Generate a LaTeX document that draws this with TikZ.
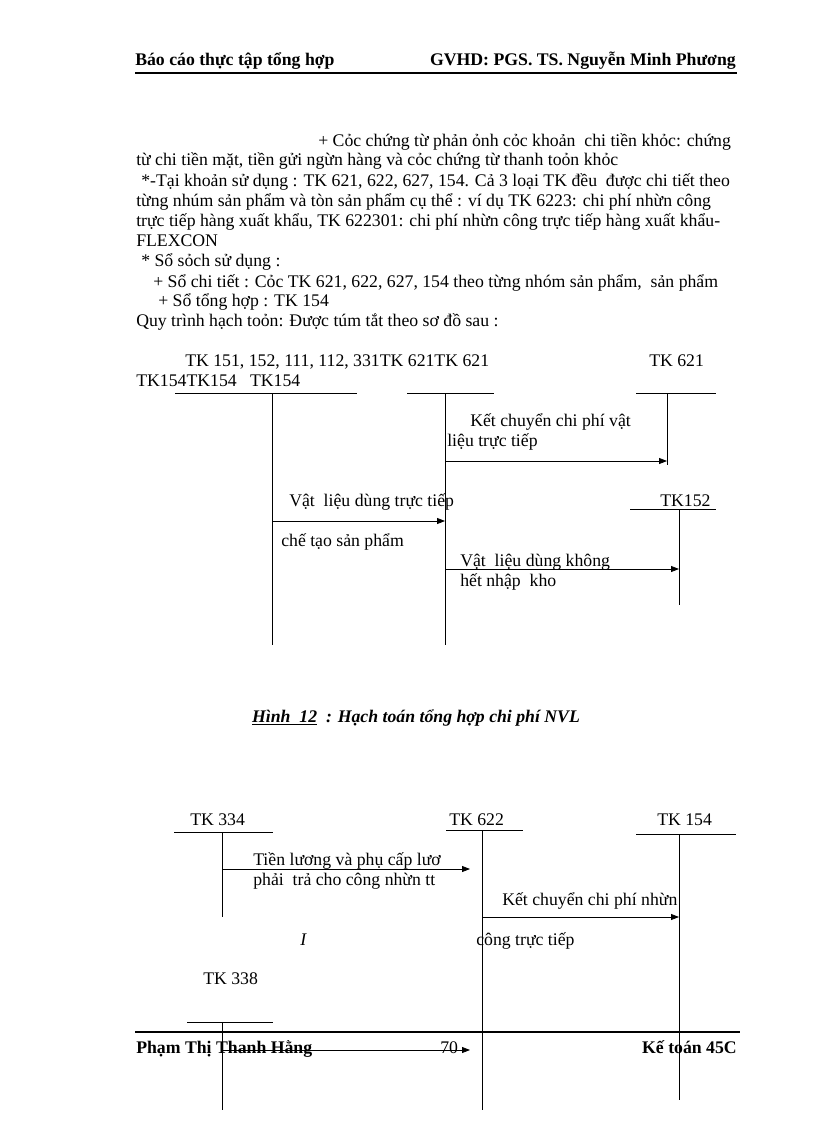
\documentclass[tikz,border=0pt]{standalone}
\usepackage{fontspec}
\setmainfont{Liberation Serif}
\usetikzlibrary{arrows.meta}
\begin{document}
\begin{tikzpicture}[x=0.75pt, y=-0.75pt,
  txt/.style={anchor=base west, inner sep=0pt, font=\fontsize{13.3}{16}\selectfont},
  head/.style={anchor=base west, inner sep=0pt, font=\fontsize{13.3}{16}\selectfont\bfseries},
  tline/.style={line width=0.75pt},
  rule/.style={line width=1.8pt},
  arr/.style={-{Triangle[length=6pt,width=4.5pt]}, line width=0.6pt}
]
\useasboundingbox[fill=white] (0,0) rectangle (816,1123);

% header
\node[head] (hl) at (135,66) {Báo cáo thực tập tổng hợp};
\node[head, anchor=base east] (hr) at (736,66) {GVHD: PGS. TS. Nguyễn Minh Phương};
\draw[rule] (135,73) -- (737,73);

% text block
\node[txt] (p1)  at (318,147) {+ Cỏc chứng từ phản ỏnh cỏc khoản\ \ chi tiền khỏc: chứng};
\node[txt] (p2)  at (136,166) {từ chi tiền mặt, tiền gửi ngừn hàng và cỏc chứng từ thanh toỏn khỏc};
\node[txt] (p3)  at (141,187) {*-Tại khoản sử dụng : TK 621, 622, 627, 154. Cả 3 loại TK đều\ \ được chi tiết theo};
\node[txt] (p4)  at (136,207) {từng nhúm sản phẩm và tòn sản phẩm cụ thể : ví dụ TK 6223: chi phí nhừn công};
\node[txt] (p5)  at (136,227) {trực tiếp hàng xuất khẩu, TK 622301: chi phí nhừn công trực tiếp hàng xuất khẩu-};
\node[txt] (p6)  at (136,246) {FLEXCON};
\node[txt] (p7)  at (141,266) {* Sổ sỏch sử dụng :};
\node[txt] (p8)  at (153,287) {+ Sổ chi tiết : Cỏc TK 621, 622, 627, 154 theo từng nhóm sản phẩm,\ \ sản phẩm};
\node[txt] (p9)  at (158,306) {+ Sổ tổng hợp : TK 154};
\node[txt] (p10) at (136,326) {Quy trình hạch toỏn: Được túm tắt theo sơ đồ sau :};

% diagram 1
\node[txt] (t1) at (185,366) {TK 151, 152, 111, 112, 331TK 621TK 621};
\node[txt] (t2) at (649,366) {TK 621};
\node[txt] (t3) at (136,386) {TK154TK154\ \ \ TK154};
\draw[tline] (175,393) -- (357,393);
\draw[tline] (272,393) -- (272,645);
\draw[tline] (407,393) -- (494,393);
\draw[tline] (445,393) -- (445,645);
\draw[tline] (636,393) -- (716,393);
\draw[tline] (667,393) -- (667,465);
\node[txt] (t4) at (660,506) {TK152};
\draw[tline] (630,509) -- (716,509);
\draw[tline] (679,509) -- (679,605);

\node[txt] (l1) at (470,426) {Kết chuyển chi phí vật};
\node[txt] (l2) at (447,446) {liệu trực tiếp};
\node[txt] (l3) at (289,506) {Vật\ \ liệu dùng trực tiếp};
\node[txt] (l4) at (281,546) {chế tạo sản phẩm};
\node[txt] (l5) at (460,566) {Vật\ \ liệu dùng không};
\node[txt] (l6) at (460,586) {hết nhập\ \ kho};

\coordinate (a1s) at (445,461);
\coordinate (a1e) at (667,461);
\coordinate (a2s) at (272,521);
\coordinate (a2e) at (445,521);
\coordinate (a3s) at (445,569);
\coordinate (a3e) at (679,569);
\draw[arr] (a1s) -- (a1e);
\draw[arr] (a2s) -- (a2e);
\draw[arr] (a3s) -- (a3e);

% caption
\node[anchor=base, inner sep=0pt, font=\fontsize{13.3}{16}\selectfont\bfseries\itshape] (cap) at (416,722)
  {\underline{Hình\ \ 12}\ \ : Hạch toán tổng hợp chi phí NVL};

% diagram 2
\node[txt] (m1) at (190,825) {TK 334};
\node[txt] (m2) at (449,825) {TK 622};
\node[txt] (m3) at (657,825) {TK 154};
\draw[tline] (174,832) -- (273,832);
\draw[tline] (222,832) -- (222,917);
\draw[tline] (446,830) -- (523,830);
\draw[tline] (482,830) -- (482,1110);
\draw[tline] (636,834) -- (736,834);
\draw[tline] (679,834) -- (679,1100);
\node[txt] (m4) at (203,984) {TK 338};
\draw[tline] (187,1022) -- (273,1022);
\draw[tline] (222,1022) -- (222,1110);

\node[txt] (n1) at (253,865) {Tiền lương và phụ cấp lươ};
\node[txt] (n2) at (253,885) {phải\ \ trả cho công nhừn tt};
\node[txt] (n3) at (502,905) {Kết chuyển chi phí nhừn};
\node[txt, font=\fontsize{13.3}{16}\selectfont\itshape] (n4) at (300,945) {I};
\node[txt] (n5) at (476,945) {công trực tiếp};

\coordinate (b1s) at (222,869);
\coordinate (b1e) at (470,869);
\coordinate (b2s) at (482,917);
\coordinate (b2e) at (679,917);
\draw[arr] (b1s) -- (b1e);
\draw[arr] (b2s) -- (b2e);

% footer
\draw[rule] (135,1032) -- (740,1032);
\node[head] (fl) at (136,1053) {Phạm Thị Thanh Hằng};
\node[txt] (pg) at (440,1053) {70};
\node[head, anchor=base east] (fr) at (737,1053) {Kế toán 45C};
\coordinate (b3s) at (222,1050);
\coordinate (b3e) at (470,1050);
\draw[arr] (b3s) -- (b3e);
\end{tikzpicture}
\end{document}
